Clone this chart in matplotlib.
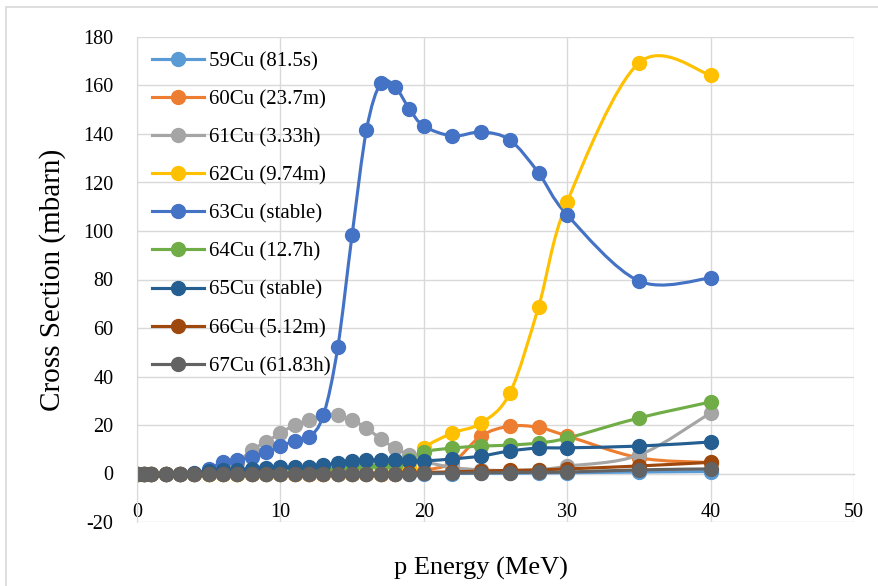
import numpy as np
import matplotlib
matplotlib.use('Agg')
from matplotlib import pyplot as plt
from matplotlib.path import Path
from matplotlib.patches import PathPatch, Rectangle
from matplotlib.lines import Line2D

plt.rcParams['font.family'] = ['Liberation Serif', 'DejaVu Serif']
plt.rcParams['axes.unicode_minus'] = False

# proton energy (MeV), same grid for every isotope
energy = [0, 0.5, 1, 2, 3, 4, 5, 6, 7, 8, 9, 10, 11, 12, 13, 14, 15, 16, 17, 18,
          19, 20, 22, 24, 26, 28, 30, 35, 40]

cu59 = [0, 0, 0, 0, 0, 0, 0, 0, 0, 0, 0, 0, 0, 0, 0, 0, 0, 0, 0, 0,
        0, 0, 0, 0.1, 0.1, 0.2, 0.3, 0.6, 0.8]
cu60 = [0, 0, 0, 0, 0, 0, 0, 0, 0, 0, 0, 0, 0, 0, 0, 0, 0, 0, 0, 0,
        0.3, 1.2, 4.5, 15.5, 19.5, 19.0, 15.5, 6.5, 4.5]
cu61 = [0, 0, 0, 0, 0, 0, 0.3, 1.5, 4.5, 9.7, 13.0, 16.7, 20.0, 22.0, 24.0, 24.1, 22.0, 18.8, 14.2, 10.5,
        7.6, 5.0, 2.5, 1.5, 1.2, 1.5, 3.0, 7.6, 25.0]
cu62 = [0, 0, 0, 0, 0, 0, 0, 0, 0, 0, 0, 0, 0, 0, 0, 0, 0, 0, 0, 0.3,
        2.5, 10.5, 16.7, 20.8, 33.2, 68.7, 112.0, 169.3, 164.3]
cu63 = [0, 0, 0, 0, 0, 0, 1.9, 4.7, 5.6, 6.8, 8.9, 11.3, 13.4, 15.0, 24.0, 52.0, 98.4, 141.6, 161.0, 159.4,
        150.3, 143.3, 139.2, 140.8, 137.5, 124.0, 106.6, 79.4, 80.6]
cu64 = [0, 0, 0, 0, 0, 0, 0, 0, 0, 0, 0, 0, 0.5, 1.0, 1.5, 2.0, 2.5, 3.0, 3.2, 3.5,
        5.5, 8.9, 10.5, 11.3, 11.7, 12.6, 14.6, 22.9, 29.5]
cu65 = [0, 0, 0, 0, 0, 0.3, 1.0, 1.4, 1.6, 2.0, 2.3, 2.5, 2.6, 2.8, 3.5, 4.3, 5.2, 5.6, 5.6, 5.6,
        5.3, 5.2, 6.0, 7.2, 9.3, 10.5, 10.6, 11.3, 13.0]
cu66 = [0, 0, 0, 0, 0, 0, 0, 0, 0, 0, 0, 0, 0, 0, 0, 0, 0, 0, 0, 0,
        0.2, 0.4, 0.7, 1.0, 1.3, 1.5, 1.9, 3.1, 4.6]
cu67 = [0, 0, 0, 0, 0, 0, 0, 0, 0, 0, 0, 0, 0, 0, 0, 0, 0, 0, 0, 0,
        0, 0.1, 0.2, 0.3, 0.4, 0.5, 0.6, 1.5, 1.9]

labels = ['59Cu (81.5s)', '60Cu (23.7m)', '61Cu (3.33h)', '62Cu (9.74m)', '63Cu (stable)',
          '64Cu (12.7h)', '65Cu (stable)', '66Cu (5.12m)', '67Cu (61.83h)']
series = [cu59, cu60, cu61, cu62, cu63, cu64, cu65, cu66, cu67]
colors = ['#5B9BD5', '#ED7D31', '#A5A5A5', '#FFC000', '#4472C4',
          '#70AD47', '#255E91', '#9E480E', '#636363']


def smooth_path(xs, ys):
    # Excel-like smoothed line: cubic bezier through each point
    p = np.column_stack([xs, ys]).astype(float)
    n = len(p)
    verts = [p[0]]
    codes = [Path.MOVETO]
    for i in range(n - 1):
        p0 = p[max(i - 1, 0)]
        p1 = p[i]
        p2 = p[i + 1]
        p3 = p[min(i + 2, n - 1)]
        verts += [p1 + (p2 - p0) / 6.0, p2 - (p3 - p1) / 6.0, p2]
        codes += [Path.CURVE4] * 3
    return Path(verts, codes)


fig = plt.figure(figsize=(8.79, 5.86), dpi=100)
axes = fig.add_axes([137 / 879, 1 - 522 / 586, (854 - 137) / 879, (522 - 37) / 586])

# outer chart border (cut off at right/bottom)
fig.patches.append(Rectangle((6 / 879, -0.1), 1.2, 1 - 7 / 586 + 0.1, transform=fig.transFigure,
                             fill=False, edgecolor='#D9D9D9', lw=1.2))

handles = []
for vals, c, lab in zip(series, colors, labels):
    axes.add_patch(PathPatch(smooth_path(energy, vals), fill=False, edgecolor=c, lw=2.25,
                             capstyle='round', joinstyle='round'))
    axes.plot(energy, vals, linestyle='none', marker='o', markersize=10, color=c)
    handles.append(Line2D([], [], color=c, lw=2.25, marker='o', markersize=10))

axes.set_xlim(0, 50)
axes.set_ylim(-20, 180)
axes.set_xticks(np.arange(0, 51, 10))
axes.set_yticks(np.arange(-20, 181, 20))
axes.grid(True, color='#D9D9D9', lw=1.0)
axes.set_axisbelow(True)

for s in ['top', 'right']:
    axes.spines[s].set_visible(False)
axes.spines['left'].set_color('#D9D9D9')
axes.spines['bottom'].set_position(('data', 0))
axes.spines['bottom'].set_color('#BFBFBF')
axes.spines['bottom'].set_zorder(0.5)
axes.tick_params(axis='both', length=0, labelsize=14.5)
axes.tick_params(axis='y', pad=17)
axes.tick_params(axis='x', pad=21)

axes.set_xlabel('p Energy (MeV)', fontsize=19)
axes.xaxis.set_label_coords(0.48, -0.071)
axes.xaxis.label.set_verticalalignment('top')
axes.set_ylabel('Cross Section (mbarn)', fontsize=21, labelpad=12)

axes.legend(handles, labels, loc='upper left', bbox_to_anchor=(0.0, 1.0), frameon=False,
            fontsize=15, handlelength=2.5, handletextpad=0.25, labelspacing=0.89,
            borderaxespad=0.3, numpoints=1)

plt.savefig('out.png', dpi=100)
